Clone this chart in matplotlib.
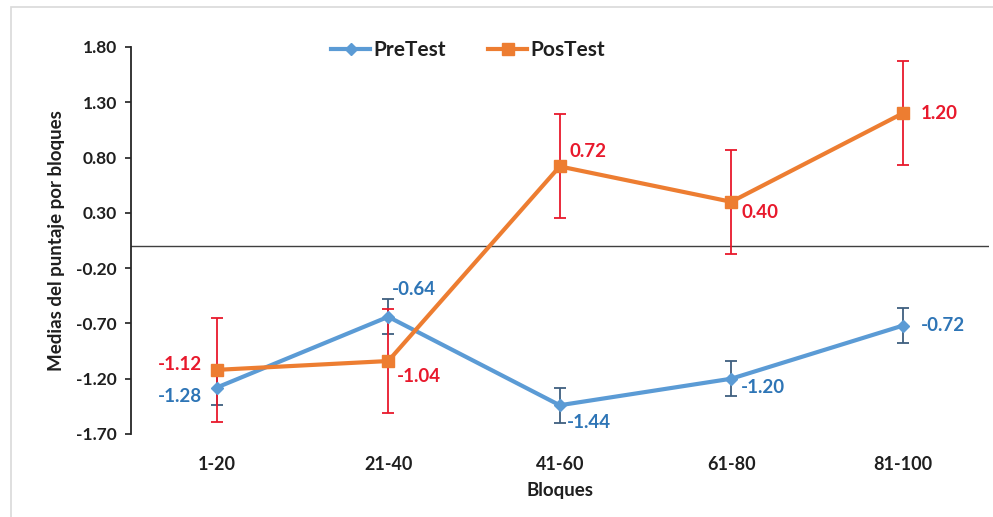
import matplotlib
matplotlib.use("Agg")
import matplotlib.pyplot as plt
from matplotlib.patches import Rectangle

# Data
bloques = ["1-20", "21-40", "41-60", "61-80", "81-100"]
pretest = [-1.28, -0.64, -1.44, -1.20, -0.72]
postest = [-1.12, -1.04, 0.72, 0.40, 1.20]
pretest_err = [0.16, 0.16, 0.16, 0.16, 0.16]
postest_err = [0.47, 0.47, 0.47, 0.47, 0.47]
yticks = [-1.70, -1.20, -0.70, -0.20, 0.30, 0.80, 1.30, 1.80]

# label placement (pixel offsets from each point) and alignment
pre_label_style = [(-15, -9, "right"), (4, 27, "left"), (7, -17, "left"),
                   (10, -9, "left"), (18, 0, "left")]
pos_label_style = [(-15, 5, "right"), (9, -15, "left"), (10, 15, "left"),
                   (10, -11, "left"), (18, 0, "left")]

BLUE = "#5B9BD5"
ORANGE = "#ED7D31"
BLUE_TXT = "#2E75B6"
RED_TXT = "#E8192C"
BLUE_ERR = "#3F5F7F"
RED_ERR = "#E8192C"
DARK = "#1F1F1F"

plt.rcParams["font.family"] = ["Lato", "DejaVu Sans"]

W, H = 993, 517
fig = plt.figure(figsize=(W / 100, H / 100), dpi=100)
ax = fig.add_axes([131 / W, 1 - 434 / H, (988.5 - 131) / W, (434 - 47) / H])

x = list(range(len(bloques)))

ax.axhline(0, color="#404040", lw=1.0, zorder=1)

ax.errorbar(x, pretest, yerr=pretest_err, fmt="none", ecolor=BLUE_ERR,
            elinewidth=1.3, capsize=4, capthick=1.3, zorder=2)
ax.errorbar(x, postest, yerr=postest_err, fmt="none", ecolor=RED_ERR,
            elinewidth=1.3, capsize=4, capthick=1.3, zorder=2)

ax.plot(x, pretest, color=BLUE, lw=3, marker="D", markersize=6,
        label="PreTest", zorder=3)
ax.plot(x, postest, color=ORANGE, lw=3, marker="s", markersize=8,
        label="PosTest", zorder=4)

for xi, v, (dx, dy, ha) in zip(x, pretest, pre_label_style):
    ax.annotate(f"{v:.2f}", (xi, v), xytext=(dx, dy), textcoords="offset pixels",
                ha=ha, va="center", color=BLUE_TXT, fontsize=13.5, fontweight="bold")
for xi, v, (dx, dy, ha) in zip(x, postest, pos_label_style):
    ax.annotate(f"{v:.2f}", (xi, v), xytext=(dx, dy), textcoords="offset pixels",
                ha=ha, va="center", color=RED_TXT, fontsize=13.5, fontweight="bold")

ax.set_xlim(-0.5, len(bloques) - 0.5)
ax.set_ylim(-1.70, 1.80)
ax.set_yticks(yticks)
ax.set_yticklabels([f"{t:.2f}" for t in yticks])
ax.set_xticks(x)
ax.set_xticklabels(bloques)

for s in ["top", "right", "bottom"]:
    ax.spines[s].set_visible(False)
ax.spines["left"].set_color("#262626")
ax.spines["left"].set_linewidth(1.3)

ax.tick_params(axis="y", direction="out", length=4, width=1.2, pad=6,
               labelsize=12.5, colors=DARK)
ax.tick_params(axis="x", length=0, pad=16, labelsize=13, colors=DARK)
for lbl in ax.get_xticklabels() + ax.get_yticklabels():
    lbl.set_fontweight("bold")

ax.set_xlabel("Bloques", fontsize=13.5, fontweight="bold", color=DARK, labelpad=6)
ax.set_ylabel("Medias del puntaje por bloques", fontsize=13.5, fontweight="bold",
              color=DARK, labelpad=8)

leg = ax.legend(loc="center", bbox_to_anchor=(468 / W, 1 - 50 / H),
                bbox_transform=fig.transFigure, ncol=2, frameon=False,
                fontsize=15, handlelength=1.9, columnspacing=2.0,
                handletextpad=0.15)
for t in leg.get_texts():
    t.set_fontweight("bold")
    t.set_color(DARK)

# outer chart frame
fig.add_artist(Rectangle((11 / W, -0.05), 1.1, 1.05 - 7 / H, transform=fig.transFigure,
                         fill=False, edgecolor="#D9D9D9", lw=1.2))

fig.savefig("out.png", dpi=100)
